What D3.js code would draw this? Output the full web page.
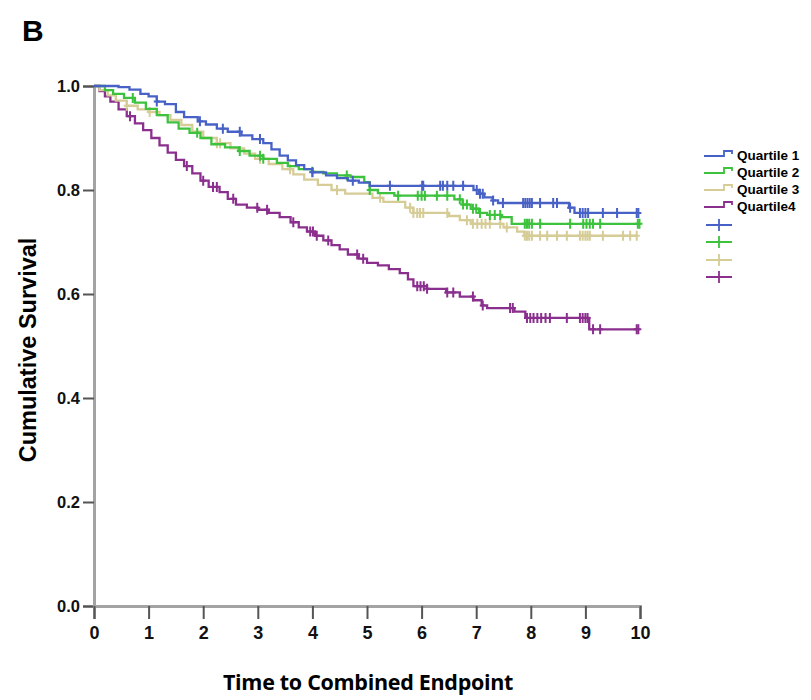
<!DOCTYPE html>
<html>
<head>
    <title>Cumulative Survival by Quartile</title>
    <script src="https://d3js.org/d3.v7.min.js"></script>
    <style>
        body { margin: 0; background: #fff; }
        .tick text { font-family: Arial, "Liberation Sans", sans-serif; font-weight: bold; }
        .legend-label { font-family: Arial, "Liberation Sans", sans-serif; font-weight: bold; font-size: 13.5px; }
    </style>
</head>
<body>
    <svg id="km-chart"></svg>

    <script>
        // Kaplan-Meier steps: times (years) and survival after each step
        var q1Times = [0, 0.45, 0.65, 0.85, 1.0, 1.15, 1.3, 1.5, 1.65, 1.9, 2.05, 2.25, 2.45, 2.7, 2.9, 3.1, 3.25, 3.4, 3.55, 3.7, 3.85, 4.0, 4.25, 4.45, 4.65, 4.85, 5.05, 6.95, 7.05, 7.15, 7.3, 7.4, 8.7, 8.8];
        var q1Surv  = [1.0, 0.998, 0.993, 0.985, 0.98, 0.97, 0.965, 0.95, 0.94, 0.932, 0.926, 0.918, 0.912, 0.905, 0.898, 0.89, 0.878, 0.866, 0.857, 0.848, 0.84, 0.834, 0.828, 0.823, 0.818, 0.814, 0.808, 0.8, 0.793, 0.786, 0.78, 0.775, 0.766, 0.756];
        var q1Censored = [1.15, 1.94, 2.36, 2.67, 3.04, 4.0, 4.74, 5.42, 6.01, 6.03, 6.34, 6.39, 6.47, 6.58, 6.76, 7.01, 7.07, 7.12, 7.31, 7.49, 7.86, 7.9, 7.94, 7.98, 8.02, 8.17, 8.41, 8.48, 8.72, 8.9, 8.95, 9.0, 9.05, 9.32, 9.58, 9.94, 9.97];

        var q2Times = [0, 0.2, 0.35, 0.55, 0.75, 0.95, 1.15, 1.35, 1.55, 1.75, 1.95, 2.15, 2.4, 2.65, 2.85, 3.1, 3.35, 3.55, 3.75, 4.0, 4.2, 4.45, 4.7, 4.95, 5.05, 5.2, 5.5, 6.6, 6.75, 6.9, 7.05, 7.2, 7.45, 7.65];
        var q2Surv  = [1.0, 0.992, 0.985, 0.977, 0.968, 0.956, 0.944, 0.93, 0.918, 0.91, 0.9, 0.888, 0.882, 0.875, 0.866, 0.86, 0.852, 0.846, 0.84, 0.835, 0.832, 0.828, 0.825, 0.815, 0.8, 0.794, 0.789, 0.782, 0.772, 0.764, 0.756, 0.752, 0.748, 0.735];
        var q2Censored = [0.71, 1.89, 2.67, 3.04, 3.1, 4.0, 4.63, 5.05, 5.57, 5.93, 6.0, 6.06, 6.28, 6.47, 6.7, 6.76, 6.83, 6.94, 7.0, 7.07, 7.25, 7.34, 7.44, 7.89, 7.93, 7.97, 8.02, 8.17, 8.72, 8.96, 9.02, 9.08, 9.14, 9.27, 9.96, 9.99];

        var q3Times = [0, 0.1, 0.25, 0.4, 0.6, 0.8, 1.0, 1.2, 1.4, 1.6, 1.8, 2.0, 2.25, 2.5, 2.75, 2.95, 3.2, 3.45, 3.65, 3.85, 4.1, 4.35, 4.6, 5.1, 5.3, 5.7, 5.85, 6.5, 6.7, 6.9, 7.5, 7.75, 7.88];
        var q3Surv  = [1.0, 0.992, 0.982, 0.972, 0.962, 0.955, 0.95, 0.944, 0.935, 0.925, 0.912, 0.9, 0.89, 0.88, 0.87, 0.86, 0.85, 0.84, 0.83, 0.82, 0.81, 0.8, 0.793, 0.785, 0.777, 0.766, 0.756, 0.75, 0.742, 0.735, 0.728, 0.72, 0.712];
        var q3Censored = [0.6, 1.02, 2.25, 2.31, 3.04, 3.59, 4.45, 5.24, 5.79, 5.85, 5.92, 5.97, 6.03, 6.47, 6.83, 6.94, 7.02, 7.1, 7.17, 7.25, 7.44, 7.56, 7.89, 7.93, 7.97, 8.02, 8.17, 8.3, 8.48, 8.66, 8.9, 8.95, 9.0, 9.04, 9.08, 9.32, 9.69, 9.82, 9.94];

        var q4Times = [0, 0.1, 0.2, 0.3, 0.45, 0.6, 0.75, 0.9, 1.05, 1.2, 1.35, 1.5, 1.65, 1.8, 1.95, 2.1, 2.3, 2.45, 2.6, 2.8, 3.0, 3.2, 3.4, 3.6, 3.75, 3.9, 4.05, 4.2, 4.35, 4.5, 4.65, 4.85, 5.0, 5.2, 5.4, 5.6, 5.75, 5.85, 6.1, 6.45, 6.7, 6.95, 7.1, 7.2, 7.7, 7.9, 9.07];
        var q4Surv  = [1.0, 0.99, 0.98, 0.97, 0.955, 0.942, 0.928, 0.915, 0.9, 0.886, 0.872, 0.858, 0.846, 0.832, 0.818, 0.806, 0.796, 0.783, 0.772, 0.766, 0.762, 0.756, 0.748, 0.738, 0.728, 0.72, 0.712, 0.703, 0.694, 0.686, 0.676, 0.668, 0.66, 0.655, 0.648, 0.64, 0.628, 0.615, 0.61, 0.603, 0.595, 0.588, 0.578, 0.573, 0.566, 0.554, 0.532];
        var q4Censored = [0.66, 1.7, 2.0, 2.18, 2.25, 2.55, 2.99, 3.17, 3.65, 3.96, 4.01, 4.08, 4.29, 4.82, 4.93, 5.92, 5.98, 6.04, 6.1, 6.47, 6.58, 6.94, 7.12, 7.62, 7.67, 7.93, 7.99, 8.05, 8.12, 8.19, 8.27, 8.35, 8.66, 8.9, 8.95, 9.0, 9.04, 9.14, 9.27, 9.94, 9.97];

        var seriesNames = ['Quartile 1', 'Quartile 2', 'Quartile 3', 'Quartile4'];
        var seriesColors = ['#4761c6', '#3cc23c', '#d6cc96', '#8b2f8e'];
        var xTicks = [0, 1, 2, 3, 4, 5, 6, 7, 8, 9, 10];
        var yTicks = [0, 0.2, 0.4, 0.6, 0.8, 1.0];

        var series = [
            { times: q1Times, surv: q1Surv, censored: q1Censored },
            { times: q2Times, surv: q2Surv, censored: q2Censored },
            { times: q3Times, surv: q3Surv, censored: q3Censored },
            { times: q4Times, surv: q4Surv, censored: q4Censored }
        ];

        var width = 811, height = 700;
        var svg = d3.select('#km-chart')
            .attr('width', width)
            .attr('height', height);

        var x = d3.scaleLinear().domain([0, 10]).range([94, 640]);
        var y = d3.scaleLinear().domain([0, 1]).range([606, 86]);

        // panel letter
        svg.append('text')
            .attr('x', 22).attr('y', 41)
            .style('font-family', 'Arial, "Liberation Sans", sans-serif')
            .style('font-weight', 'bold')
            .style('font-size', '30px')
            .text('B');

        // axes
        var yAxis = svg.append('g')
            .attr('transform', 'translate(' + x(0) + ',0)')
            .call(d3.axisLeft(y).tickValues(yTicks).tickFormat(d3.format('.1f')).tickSize(11).tickPadding(3));
        var xAxis = svg.append('g')
            .attr('transform', 'translate(0,' + y(0) + ')')
            .call(d3.axisBottom(x).tickValues(xTicks).tickFormat(d3.format('d')).tickSize(13).tickPadding(7));

        [yAxis, xAxis].forEach(function (g) {
            g.select('.domain').attr('stroke', '#a3a3a3').attr('stroke-width', 3);
            g.selectAll('.tick line').attr('stroke', '#555').attr('stroke-width', 2);
            g.selectAll('.tick text').attr('fill', '#111');
        });
        yAxis.selectAll('.tick text').style('font-size', '16.5px');
        xAxis.selectAll('.tick text').style('font-size', '18px');

        // axis titles
        svg.append('text')
            .attr('transform', 'translate(36,' + (y(0.5) + 4) + ') rotate(-90)')
            .attr('text-anchor', 'middle')
            .style('font-family', 'Arial, "Liberation Sans", sans-serif')
            .style('font-weight', 'bold')
            .style('font-size', '23.5px')
            .text('Cumulative Survival');

        svg.append('text')
            .attr('x', 368).attr('y', 690)
            .attr('text-anchor', 'middle')
            .style('font-family', '"Open Sans", sans-serif')
            .style('font-weight', 700)
            .style('font-size', '21.5px')
            .style('letter-spacing', '-0.3px')
            .text('Time to Combined Endpoint');

        // survival at time t (step function)
        function survAt(s, t) {
            var i = d3.bisectRight(s.times, t) - 1;
            return s.surv[Math.max(i, 0)];
        }

        var line = d3.line()
            .x(function (d) { return x(d[0]); })
            .y(function (d) { return y(d[1]); })
            .curve(d3.curveStepAfter);

        // draw from the bottom curve up so overlaps match
        [3, 2, 1, 0].forEach(function (k) {
            var s = series[k];
            var pts = s.times.map(function (t, i) { return [t, s.surv[i]]; });
            var lastT = d3.max(s.censored);
            pts.push([lastT, s.surv[s.surv.length - 1]]);

            svg.append('path')
                .datum(pts)
                .attr('fill', 'none')
                .attr('stroke', seriesColors[k])
                .attr('stroke-width', 2.3)
                .attr('d', line);

            svg.selectAll('.cens' + k)
                .data(s.censored)
                .enter().append('path')
                .attr('class', 'cens' + k)
                .attr('fill', 'none')
                .attr('stroke', seriesColors[k])
                .attr('stroke-width', 2)
                .attr('d', function (t) {
                    var cx = x(t), cy = y(survAt(s, t));
                    return 'M' + cx + ',' + (cy - 5) + 'V' + (cy + 5) + 'M' + (cx - 3) + ',' + cy + 'H' + (cx + 3);
                });
        });

        // legend
        var legend = svg.append('g').attr('transform', 'translate(704,0)');
        var rowY = [156, 173, 190, 207];
        var crossY = [225, 242, 260, 277];

        seriesNames.forEach(function (name, k) {
            var ly = rowY[k];
            legend.append('path')
                .attr('fill', 'none')
                .attr('stroke', seriesColors[k])
                .attr('stroke-width', 1.8)
                .attr('d', 'M0,' + ly + 'H20V' + (ly - 5) + 'H28V' + (ly - 2));
            legend.append('text')
                .attr('class', 'legend-label')
                .attr('x', 33).attr('y', ly + 4)
                .text(name);

            var cy = crossY[k];
            legend.append('path')
                .attr('fill', 'none')
                .attr('stroke', seriesColors[k])
                .attr('stroke-width', 1.8)
                .attr('d', 'M2,' + cy + 'H28M15,' + (cy - 6) + 'V' + (cy + 6));
        });
    </script>
</body>
</html>
